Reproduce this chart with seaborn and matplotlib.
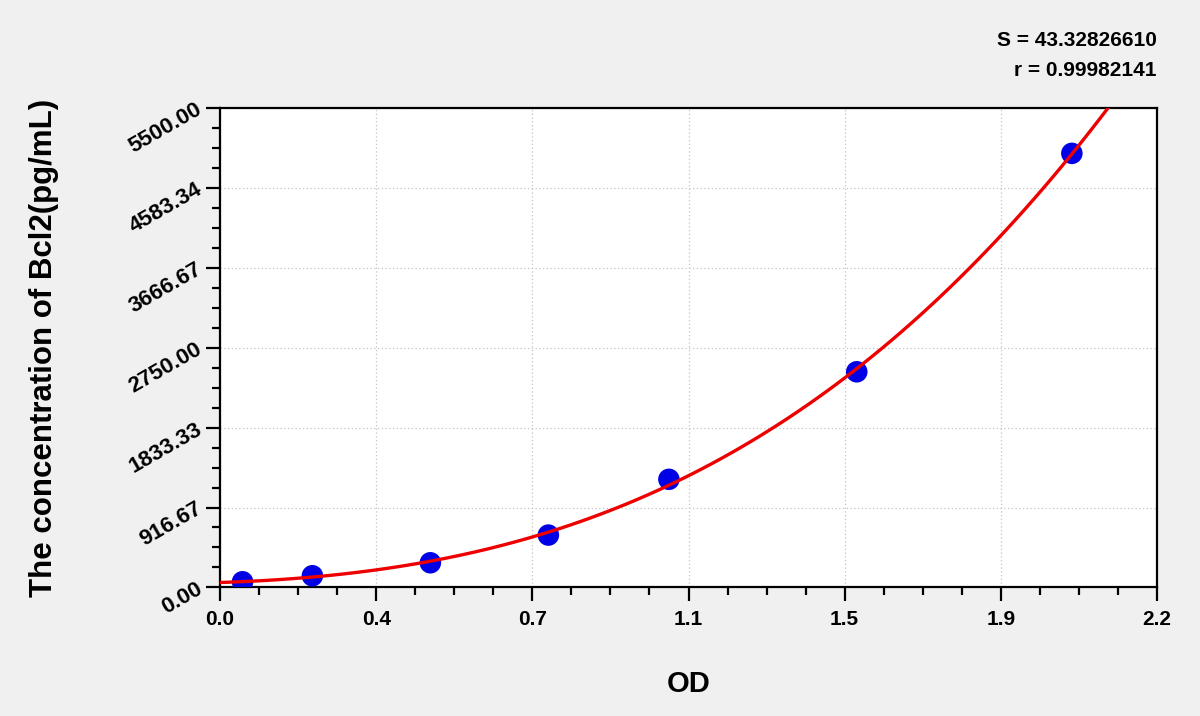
import numpy as np
import pandas as pd
import matplotlib
matplotlib.use("Agg")
import matplotlib.pyplot as plt
from matplotlib.ticker import AutoMinorLocator
import seaborn as sns

# standard curve points
od = [0.053, 0.217, 0.494, 0.771, 1.054, 1.495, 2.000]
conc = [64, 133, 282, 600, 1240, 2475, 4983]

x_ticklabels = ['0.0', '0.4', '0.7', '1.1', '1.5', '1.9', '2.2']
y_ticklabels = ['0.00', '916.67', '1833.33', '2750.00', '3666.67', '4583.34', '5500.00']

s_text = "S = 43.32826610"
r_text = "r = 0.99982141"

sns.set_theme(style="ticks")
plt.rcParams['font.family'] = ['Liberation Sans', 'DejaVu Sans']
plt.rcParams['font.weight'] = 'bold'
plt.rcParams['text.color'] = 'black'
plt.rcParams['axes.labelcolor'] = 'black'
plt.rcParams['xtick.color'] = 'black'
plt.rcParams['ytick.color'] = 'black'

df = pd.DataFrame({'OD': od, 'conc': conc})

fig = plt.figure(figsize=(12, 7.16), dpi=100, facecolor='#f0f0f0')
ax = fig.add_axes([0.1833, 0.1797, 0.7809, 0.669])
ax.set_facecolor('white')
ax.set_xlim(0, 2.2)
ax.set_ylim(0, 5500)

sns.regplot(data=df, x='OD', y='conc', order=3, ci=None, truncate=False, ax=ax,
            scatter_kws=dict(s=240, color='#0000e6', edgecolor='none', alpha=1, zorder=3),
            line_kws=dict(color='#ee0000', lw=2.4, zorder=4))

ax.set_xlim(0, 2.2)
ax.set_ylim(0, 5500)

ax.set_xticks(np.linspace(0, 2.2, len(x_ticklabels)))
ax.set_xticklabels(x_ticklabels, fontsize=15, fontweight='bold')
ax.set_yticks(np.linspace(0, 5500, len(y_ticklabels)))
ax.set_yticklabels(y_ticklabels, fontsize=16, fontweight='bold', rotation=30,
                   ha='right', va='center', rotation_mode='anchor')
ax.xaxis.set_minor_locator(AutoMinorLocator(4))
ax.yaxis.set_minor_locator(AutoMinorLocator(4))
ax.tick_params(which='major', direction='out', length=10, width=1.6, pad=6)
ax.tick_params(which='minor', direction='out', length=6, width=1.6)
ax.tick_params(axis='y', which='major', pad=4)

ax.grid(True, which='major', linestyle=(0, (1, 2)), color='#c4c4c4', lw=0.9)
for side in ['left', 'bottom', 'top', 'right']:
    ax.spines[side].set_visible(True)
    ax.spines[side].set_color('black')
    ax.spines[side].set_linewidth(1.6)

ax.set_xlabel('OD', fontsize=21, fontweight='bold', labelpad=30)
ax.set_ylabel('The concentration of Bcl2(pg/mL)', fontsize=22.5, fontweight='bold')
ax.yaxis.set_label_coords(-0.172, 0.5)

fig.text(0.964, 0.944, s_text, ha='right', va='center', fontsize=15, fontweight='bold')
fig.text(0.964, 0.902, r_text, ha='right', va='center', fontsize=15, fontweight='bold')

fig.savefig('out.png', dpi=100, facecolor=fig.get_facecolor())
